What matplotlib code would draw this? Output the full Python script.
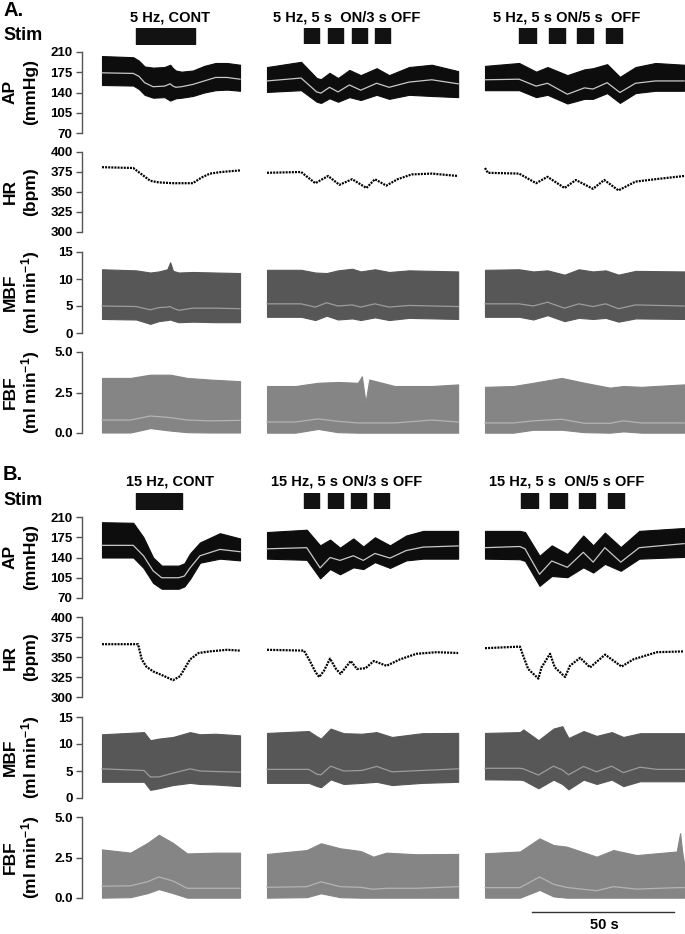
import matplotlib.pyplot as plt

plt.rcParams['font.family'] = ['Liberation Sans', 'DejaVu Sans']
plt.rcParams['mathtext.fontset'] = 'custom'
plt.rcParams['mathtext.rm'] = 'Liberation Sans:bold'
plt.rcParams['mathtext.default'] = 'rm'

# ---- data (local time in s from the start of each trace) ----
# panel A, 5 Hz
A_TITLES = ['5 Hz, CONT', '5 Hz, 5 s  ON/3 s OFF', '5 Hz, 5 s ON/5 s  OFF']
A_STIM_ON = [[12.0], [13.0, 21.5, 29.9, 38.0], [12.0, 22.5, 32.4, 42.6]]
A_STIM_DUR = [20.8, 5.4, 5.8]

A_AP_t = [[0, 11, 13, 15, 18, 22, 24, 25, 26, 28, 32, 36, 40, 44, 48.6],
          [0, 12, 17.5, 19, 22, 25, 29, 33, 38.6, 43, 50, 58, 67.3],
          [0, 12, 18, 22, 29, 35, 38, 43, 47.5, 53, 60, 70.1]]
A_AP_hi = [[203, 201, 195, 185, 183, 184, 188, 182, 178, 176, 178, 186, 191, 191, 188],
           [184, 193, 165, 163, 174, 165, 179, 170, 182, 170, 184, 188, 177],
           [186, 191, 176, 184, 170, 180, 182, 189, 167, 184, 191, 188]]
A_AP_mean = [[174, 173, 168, 157, 150, 151, 155, 151, 149, 150, 154, 160, 166, 166, 163],
             [160, 165, 141, 139, 149, 141, 153, 144, 156, 149, 158, 162, 155],
             [162, 163, 151, 156, 137, 148, 146, 157, 140, 156, 160, 160]]
A_AP_lo = [[153, 152, 146, 136, 131, 132, 126, 128, 130, 131, 134, 140, 144, 145, 143],
           [141, 144, 124, 122, 130, 124, 132, 127, 136, 129, 136, 134, 132],
           [144, 144, 132, 136, 121, 129, 129, 139, 122, 139, 143, 143]]

A_HR_t = [[0, 11, 14, 17, 20, 25, 32, 35, 38, 42, 48.6],
          [0, 12, 17, 21.5, 25.5, 30, 35, 38, 42, 46, 51, 58, 67.3],
          [0, 1, 12, 18, 22, 28, 32, 38, 42, 47, 53, 60, 70.1]]
A_HR = [[381, 380, 372, 364, 362, 361, 361, 368, 373, 375, 377],
        [374, 375, 361, 370, 359, 366, 355, 366, 358, 366, 372, 373, 370],
        [380, 374, 373, 361, 369, 355, 365, 354, 365, 352, 363, 366, 370]]

A_MBF_t = [[0, 12, 17, 20, 23, 24, 25, 27, 32, 40, 48.6],
           [0, 12, 17, 21, 25, 30, 33, 38, 43, 50, 67.3],
           [0, 12, 17, 22, 28, 33, 38, 42.5, 47, 53, 70.1]]
A_MBF_hi = [[11.8, 11.6, 11.2, 11.4, 11.8, 13.1, 11.5, 11.2, 11.3, 11.2, 11.1],
            [11.7, 11.7, 11.2, 11.1, 11.6, 11.9, 11.4, 11.8, 11.3, 11.6, 11.4],
            [11.7, 11.8, 11.4, 11.6, 10.8, 11.8, 11.4, 11.6, 10.8, 11.5, 11.4]]
A_MBF_mean = [[5.0, 4.9, 4.3, 4.7, 4.8, 4.9, 4.6, 4.2, 4.6, 4.6, 4.5],
              [5.4, 5.4, 4.8, 5.6, 5.0, 5.2, 4.8, 5.4, 4.8, 5.1, 4.9],
              [5.4, 5.4, 5.0, 5.7, 4.6, 5.4, 4.9, 5.4, 4.5, 5.2, 5.0]]
A_MBF_lo = [[2.6, 2.5, 1.7, 2.2, 2.4, 2.5, 2.3, 2.0, 2.1, 2.0, 2.0],
            [3.0, 3.0, 2.4, 3.2, 2.5, 2.7, 2.4, 2.9, 2.4, 2.8, 2.6],
            [3.0, 3.0, 2.5, 3.3, 2.2, 2.8, 2.6, 2.8, 2.1, 2.7, 2.6]]

A_FBF_t = [[0, 10, 17, 24, 30, 38, 48.6],
           [0, 10, 18, 25, 32, 33.4, 34.7, 36, 45, 58, 67.3],
           [0, 10, 17, 27, 35, 44, 48.7, 55, 70.1]]
A_FBF_hi = [[3.4, 3.4, 3.6, 3.6, 3.4, 3.3, 3.2],
            [2.9, 2.9, 3.1, 3.15, 3.1, 3.5, 1.9, 3.3, 2.9, 2.9, 3.0],
            [2.85, 2.9, 3.1, 3.4, 3.1, 2.8, 2.9, 2.85, 3.0]]
A_FBF_mean = [[0.8, 0.8, 1.05, 0.95, 0.8, 0.75, 0.78],
              [0.68, 0.68, 0.87, 0.72, 0.62, 0.62, 0.62, 0.62, 0.62, 0.8, 0.68],
              [0.62, 0.62, 0.75, 0.85, 0.6, 0.6, 0.75, 0.62, 0.62]]
A_FBF_lo = [[0.03, 0.03, 0.3, 0.15, 0.05, 0.03, 0.03],
            [0.02, 0.02, 0.25, 0.05, 0.02, 0.02, 0.02, 0.02, 0.02, 0.02, 0.02],
            [0.02, 0.02, 0.2, 0.2, 0.05, 0.02, 0.1, 0.02, 0.02]]

# panel B, 15 Hz
B_TITLES = ['15 Hz, CONT', '15 Hz, 5 s ON/3 s OFF', '15 Hz, 5 s  ON/5 s OFF']
B_STIM_ON = [[12.0], [13.0, 21.5, 29.6, 37.7], [12.7, 22.9, 33.1, 43.3]]
B_STIM_DUR = [16.2, 5.4, 5.8]

B_AP_t = [[0, 11, 14.6, 18, 21, 27, 29, 31, 34.5, 41.5, 48.6],
          [0, 14.0, 18.7, 22.2, 25.7, 30.4, 33.9, 38.0, 43.3, 49, 55, 67.3],
          [0, 12.3, 14.1, 19.2, 23.5, 29, 34.6, 38.1, 42.2, 47.8, 54.3, 70.1]]
B_AP_hi = [[201, 200, 175, 140, 126, 126, 130, 147, 166, 182, 173],
           [184, 188, 161, 171, 157, 173, 159, 175, 161, 178, 186, 186],
           [186, 186, 184, 143, 161, 146, 178, 161, 183, 158, 186, 191]]
B_AP_mean = [[161, 161, 143, 117, 105, 105, 108, 122, 143, 154, 150],
             [155, 157, 122, 140, 135, 143, 135, 147, 139, 152, 158, 160],
             [157, 159, 155, 111, 134, 123, 149, 132, 157, 132, 157, 164]]
B_AP_lo = [[140, 140, 122, 96, 86, 86, 90, 103, 131, 138, 135],
           [138, 136, 104, 120, 111, 123, 120, 132, 122, 135, 138, 138],
           [138, 137, 134, 91, 108, 106, 123, 114, 129, 117, 138, 141]]

B_HR_t = [[0, 12.7, 14, 15.6, 18, 22, 25, 27.5, 29, 31, 34, 38, 44, 48.6],
          [0, 13, 14.8, 17.1, 18.4, 20.1, 22.2, 24.3, 25.9, 29.5, 31.7, 34.7,
           37.6, 42.1, 46.8, 52.6, 59.7, 67.3],
          [0, 12.3, 13.5, 15.2, 17.6, 18.8, 19.9, 22.9, 24.6, 28.2, 29.9, 33.5,
           37, 42.3, 44.6, 48.1, 52.2, 60.5, 70.1]]
B_HR = [[366, 366, 347, 338, 332, 326, 321, 326, 335, 347, 355, 357, 359, 358],
        [359, 358, 347, 331, 325, 333, 348, 335, 329, 345, 335, 336, 345, 339,
         347, 354, 356, 355],
        [361, 363, 351, 335, 327, 323, 337, 354, 337, 325, 339, 349, 337, 353,
         347, 338, 347, 356, 357]]

B_MBF_t = [[0, 14.8, 17, 20, 25, 31, 34.5, 40, 48.6],
           [0, 14.7, 17.6, 19, 22.4, 27, 33.4, 38.6, 44, 54.6, 67.3],
           [0, 12.3, 13.5, 18.8, 24.1, 27.2, 29.4, 34.7, 39.3, 44.6, 48.7, 54.6, 60.5, 70.1]]
B_MBF_hi = [[11.8, 12.2, 10.7, 11.0, 11.3, 12.2, 11.8, 11.9, 11.6],
            [12.05, 12.4, 11.4, 11.0, 12.85, 12.0, 11.9, 12.2, 11.3, 12.0, 12.05],
            [12.05, 12.2, 12.7, 10.7, 12.85, 13.3, 11.1, 12.4, 11.5, 12.2, 11.3, 12.0, 12.0, 12.0]]
B_MBF_mean = [[5.4, 5.1, 3.9, 3.9, 4.6, 5.4, 5.0, 4.9, 4.8],
              [5.3, 5.3, 4.4, 4.3, 5.9, 5.0, 5.1, 5.85, 4.85, 5.1, 5.4],
              [5.5, 5.5, 5.4, 4.25, 5.9, 5.2, 4.3, 5.85, 4.85, 5.9, 4.7, 5.7, 5.3, 5.3]]
B_MBF_lo = [[3.0, 3.0, 1.5, 1.8, 2.4, 2.8, 2.6, 2.5, 2.2],
            [2.8, 2.8, 2.2, 2.0, 3.45, 2.6, 2.8, 3.0, 2.4, 2.8, 3.0],
            [3.45, 3.4, 3.3, 1.8, 3.4, 2.6, 1.6, 3.4, 2.6, 3.4, 2.2, 3.1, 3.1, 3.1]]

B_FBF_t = [[0, 10, 16, 20, 25, 30, 40, 48.6],
           [0, 14, 19, 25.7, 33, 37.4, 42.1, 52.6, 67.3],
           [0, 12.3, 19.2, 24.1, 28.8, 39.3, 45.2, 53.4, 67.5, 68.7, 69.4, 70.1]]
B_FBF_hi = [[3.0, 2.8, 3.4, 3.9, 3.4, 2.75, 2.8, 2.8],
            [2.72, 2.96, 3.38, 3.07, 2.9, 2.55, 2.8, 2.7, 2.72],
            [2.76, 2.87, 3.68, 3.27, 3.17, 2.55, 2.96, 2.65, 2.87, 4.0, 2.9, 2.14]]
B_FBF_mean = [[0.73, 0.75, 1.0, 1.3, 1.05, 0.6, 0.6, 0.6],
              [0.66, 0.7, 1.0, 0.7, 0.66, 0.54, 0.6, 0.6, 0.7],
              [0.64, 0.64, 1.3, 0.85, 0.65, 0.45, 0.7, 0.55, 0.64, 0.64, 0.64, 0.64]]
B_FBF_lo = [[0.02, 0.05, 0.3, 0.55, 0.3, 0.02, 0.02, 0.02],
            [0.02, 0.05, 0.29, 0.05, 0.02, 0.02, 0.02, 0.02, 0.02],
            [0.02, 0.02, 0.5, 0.1, 0.02, 0.02, 0.02, 0.02, 0.02, 0.02, 0.02, 0.02]]

AP_TICKS = [70, 105, 140, 175, 210]
HR_TICKS = [300, 325, 350, 375, 400]
MBF_TICKS = [0, 5, 10, 15]
FBF_TICKS = [0.0, 2.5, 5.0]
SCALE_BAR_S = 50

# ---- layout (pixels) ----
W, H = 685, 934
PX_PER_S = 2.84
SPINE_X = 82
COL_OFF = [(102 - SPINE_X) / PX_PER_S, (267 - SPINE_X) / PX_PER_S, (485 - SPINE_X) / PX_PER_S]

fig = plt.figure(figsize=(W / 100, H / 100), dpi=100)


def px_axes(left, top, right, bottom):
    return fig.add_axes([left / W, 1 - bottom / H, (right - left) / W, (bottom - top) / H])


def ftext(x, y, s, **kw):
    kw.setdefault('fontweight', 'bold')
    fig.text(x / W, 1 - y / H, s, **kw)


def make_axis(top, bottom, ticks, labels):
    ax = px_axes(SPINE_X, top, W, bottom)
    ax.set_xlim(0, (W - SPINE_X) / PX_PER_S)
    ax.set_ylim(ticks[0], ticks[-1])
    for s in ['top', 'right', 'bottom']:
        ax.spines[s].set_visible(False)
    ax.spines['left'].set_color('#555555')
    ax.spines['left'].set_linewidth(1)
    ax.set_xticks([])
    ax.set_yticks(ticks)
    ax.set_yticklabels(labels, fontweight='bold', fontsize=9.5)
    ax.tick_params(axis='y', length=4.3, width=1, color='#555555', pad=2.5)
    ax.patch.set_alpha(0)
    return ax


def draw_band(ax, ts, his, means, los, band_c, line_c):
    for off, t, hi, m, lo in zip(COL_OFF, ts, his, means, los):
        x = [off + v for v in t]
        ax.fill_between(x, lo, hi, color=band_c, lw=0.8, clip_on=False)
        ax.plot(x, m, color=line_c, lw=0.9, clip_on=False)


def draw_panel(letter, y0, titles, stim_on, stim_dur, ap, hr, mbf, fbf):
    # y0: pixel offset of the panel
    ftext(3, y0 + 10, letter, fontsize=14.5, ha='left', va='center')
    ftext(3, y0 + 35, 'Stim', fontsize=13, ha='left', va='center')
    for cx, title in zip([170, 347, 567], titles):
        ftext(cx, y0 + 17, title, fontsize=10.5, ha='center', va='center')

    sax = px_axes(SPINE_X, y0 + 28, W, y0 + 44)
    sax.set_xlim(0, (W - SPINE_X) / PX_PER_S)
    sax.set_ylim(0, 1)
    sax.axis('off')
    for off, starts, dur in zip(COL_OFF, stim_on, stim_dur):
        sax.broken_barh([(off + s, dur) for s in starts], (0, 1), color='#121212')

    ax = make_axis(y0 + 52, y0 + 133, AP_TICKS, [str(v) for v in AP_TICKS])
    draw_band(ax, *ap, '#0d0d0d', '#c8c8c8')
    ax = make_axis(y0 + 152, y0 + 232, HR_TICKS, [str(v) for v in HR_TICKS])
    for off, t, v in zip(COL_OFF, *hr):
        ax.plot([off + s for s in t], v, color='black', lw=1.6,
                linestyle=(0, (0.9, 0.5)), clip_on=False)
    ax = make_axis(y0 + 252, y0 + 333, MBF_TICKS, [str(v) for v in MBF_TICKS])
    draw_band(ax, *mbf, '#575757', '#9c9c9c')
    ax = make_axis(y0 + 352, y0 + 433, FBF_TICKS, ['%.1f' % v for v in FBF_TICKS])
    draw_band(ax, *fbf, '#858585', '#b4b4b4')

    labels = [('AP', '(mmHg)', 92), ('HR', '(bpm)', 192),
              ('MBF', '(ml min$^{-1}$)', 292), ('FBF', '(ml min$^{-1}$)', 392)]
    for a, b, yc in labels:
        ftext(10, y0 + yc, a, fontsize=12.5, rotation=90, ha='center', va='center')
        ftext(31, y0 + yc, b, fontsize=12.5, rotation=90, ha='center', va='center')
    return ax


draw_panel('A.', 0, A_TITLES, A_STIM_ON, A_STIM_DUR,
           (A_AP_t, A_AP_hi, A_AP_mean, A_AP_lo), (A_HR_t, A_HR),
           (A_MBF_t, A_MBF_hi, A_MBF_mean, A_MBF_lo),
           (A_FBF_t, A_FBF_hi, A_FBF_mean, A_FBF_lo))
last = draw_panel('B.', 465, B_TITLES, B_STIM_ON, B_STIM_DUR,
                  (B_AP_t, B_AP_hi, B_AP_mean, B_AP_lo), (B_HR_t, B_HR),
                  (B_MBF_t, B_MBF_hi, B_MBF_mean, B_MBF_lo),
                  (B_FBF_t, B_FBF_hi, B_FBF_mean, B_FBF_lo))

# 50 s scale bar under the last column
bar_x0 = (532 - SPINE_X) / PX_PER_S
bar_y = 5 - (912 - 817) * 5 / 81
last.plot([bar_x0, bar_x0 + SCALE_BAR_S], [bar_y, bar_y], color='#333333', lw=1, clip_on=False)
ftext(604, 925, '%d s' % SCALE_BAR_S, fontsize=10.5, ha='center', va='center')

fig.savefig('out.png', dpi=100)
